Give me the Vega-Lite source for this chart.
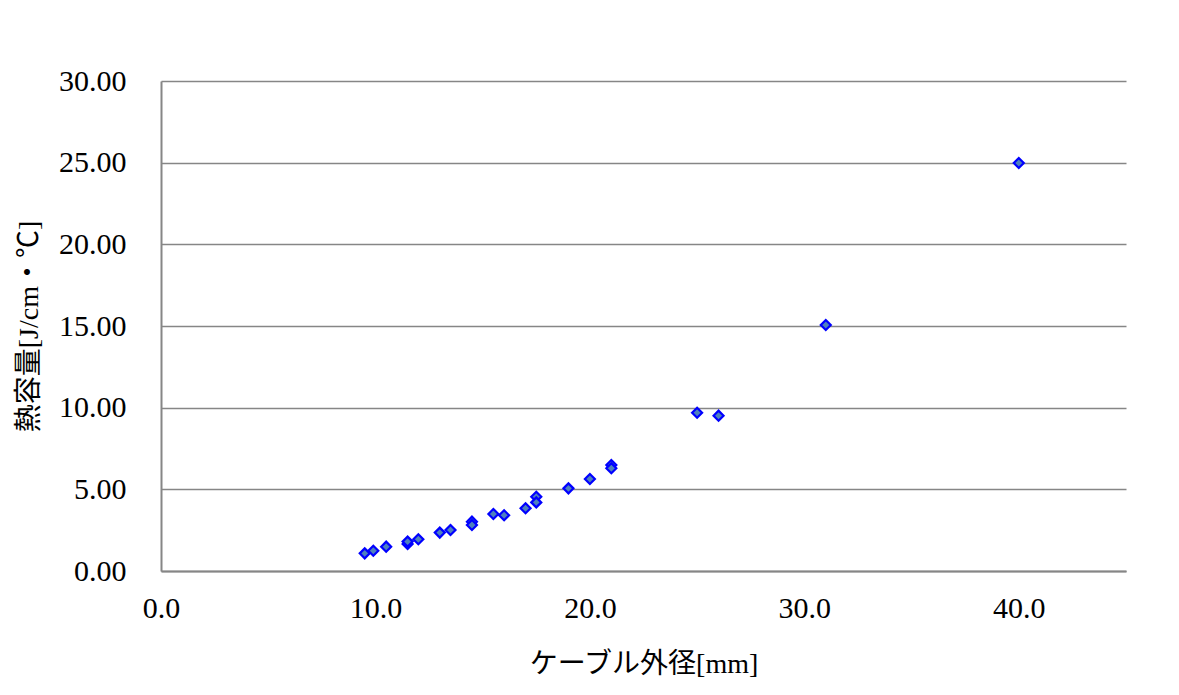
{
  "$schema": "https://vega.github.io/schema/vega-lite/v6.json",
  "width": 965,
  "height": 490,
  "autosize": {"type": "none"},
  "padding": {"left": 161, "top": 81, "right": 53, "bottom": 124},
  "background": "white",
  "config": {
    "view": {"stroke": null},
    "axis": {
      "labelFont": "Liberation Serif",
      "labelFontSize": 30,
      "labelColor": "#000000",
      "labelFlush": false,
      "titleFont": "Liberation Serif, Noto Sans CJK JP",
      "titleFontSize": 28,
      "titleFontWeight": "normal",
      "titleColor": "#000000",
      "domainColor": "#868686",
      "domainWidth": 2,
      "gridColor": "#868686",
      "gridWidth": 1.5,
      "gridOpacity": 1,
      "ticks": false
    }
  },
  "data": {
    "values": [
      {"diameter": 9.5, "capacity": 1.08},
      {"diameter": 9.9, "capacity": 1.24},
      {"diameter": 10.5, "capacity": 1.49},
      {"diameter": 11.5, "capacity": 1.65},
      {"diameter": 11.5, "capacity": 1.8},
      {"diameter": 12.0, "capacity": 1.94},
      {"diameter": 13.0, "capacity": 2.35},
      {"diameter": 13.5, "capacity": 2.51},
      {"diameter": 14.5, "capacity": 3.02},
      {"diameter": 14.5, "capacity": 2.82},
      {"diameter": 15.5, "capacity": 3.49},
      {"diameter": 16.0, "capacity": 3.41},
      {"diameter": 17.0, "capacity": 3.84},
      {"diameter": 17.5, "capacity": 4.55},
      {"diameter": 17.5, "capacity": 4.2},
      {"diameter": 19.0, "capacity": 5.06},
      {"diameter": 20.0, "capacity": 5.63},
      {"diameter": 21.0, "capacity": 6.49},
      {"diameter": 21.0, "capacity": 6.29},
      {"diameter": 25.0, "capacity": 9.69},
      {"diameter": 26.0, "capacity": 9.51},
      {"diameter": 31.0, "capacity": 15.06},
      {"diameter": 40.0, "capacity": 24.98}
    ]
  },
  "mark": {
    "type": "point",
    "shape": "diamond",
    "filled": true,
    "fill": "#4F81BD",
    "stroke": "#0000FF",
    "strokeWidth": 2.2,
    "size": 100,
    "opacity": 1
  },
  "encoding": {
    "x": {
      "field": "diameter",
      "type": "quantitative",
      "scale": {"domain": [0, 45], "nice": false, "zero": true},
      "axis": {
        "values": [0, 10, 20, 30, 40],
        "format": ".1f",
        "grid": false,
        "labelPadding": 22,
        "title": "ケーブル外径[mm]",
        "titlePadding": 27
      }
    },
    "y": {
      "field": "capacity",
      "type": "quantitative",
      "scale": {"domain": [0, 30], "nice": false},
      "axis": {
        "values": [0, 5, 10, 15, 20, 25, 30],
        "format": ".2f",
        "grid": true,
        "labelPadding": 35,
        "title": "熱容量[J/cm・℃]",
        "titlePadding": 15
      }
    }
  }
}
